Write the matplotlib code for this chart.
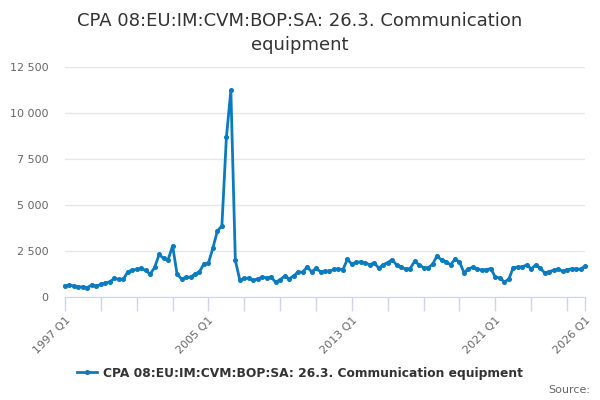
import matplotlib
matplotlib.use("Agg")
import matplotlib.pyplot as plt

# quarterly values, 1997 Q1 .. 2026 Q1
values = [
    614, 650, 596, 560, 542, 506, 668, 578,
    686, 759, 831, 1011, 957, 957, 1373, 1463,
    1499, 1553, 1445, 1246, 1607, 2312, 2095, 2023,
    2781, 1246, 975, 1066, 1084, 1246, 1373, 1806,
    1842, 2673, 3594, 3865, 8669, 11233, 1987, 921,
    1011, 1029, 903, 993, 1066, 1047, 1066, 813,
    939, 1138, 993, 1138, 1373, 1336, 1643, 1373,
    1553, 1373, 1409, 1391, 1509, 1527, 1491, 2054,
    1782, 1891, 1909, 1836, 1763, 1854, 1563, 1763,
    1873, 2036, 1727, 1636, 1509, 1545, 1945, 1745,
    1600, 1582, 1782, 2236, 2000, 1927, 1745, 2054,
    1909, 1327, 1527, 1618, 1527, 1454, 1491, 1545,
    1073, 1036, 818, 964, 1600, 1618, 1636, 1745,
    1527, 1745, 1582, 1309, 1382, 1454, 1527, 1400,
    1491, 1527, 1527, 1509, 1673,
]
quarters = [f"{1997 + i // 4} Q{i % 4 + 1}" for i in range(len(values))]
labelled = ["1997 Q1", "2005 Q1", "2013 Q1", "2021 Q1", "2026 Q1"]
y_ticks = [0, 2500, 5000, 7500, 10000, 12500]
series_name = "CPA 08:EU:IM:CVM:BOP:SA: 26.3. Communication equipment"
title_lines = ["CPA 08:EU:IM:CVM:BOP:SA: 26.3. Communication", "equipment"]

line_color = "#0b7bbf"
text_color = "#333333"
label_color = "#666666"

fig = plt.figure(figsize=(6, 4), dpi=100)
ax = fig.add_axes([65 / 600, 1 - 297 / 400, 520 / 600, 230 / 400])

x = list(range(len(values)))
ax.plot(x, values, color=line_color, lw=2, marker="o", ms=2.6,
        label=series_name, clip_on=False, zorder=3)

ax.set_xlim(0, len(values) - 1)
ax.set_ylim(0, 12500)

tick_pos = list(range(0, len(values), 8))
if tick_pos[-1] != len(values) - 1:
    tick_pos.append(len(values) - 1)
ax.set_xticks(tick_pos)
ax.set_xticklabels([quarters[p] if quarters[p] in labelled else "" for p in tick_pos],
                   rotation=45, ha="right", rotation_mode="anchor",
                   color=label_color, fontsize=8)
ax.tick_params(axis="x", length=10, width=1, color="#ccd6eb", pad=3)

ax.set_yticks(y_ticks)
ax.set_yticklabels([f"{v:,}".replace(",", " ") for v in y_ticks],
                   color=label_color, fontsize=8)
ax.tick_params(axis="y", length=0, pad=12)

ax.grid(axis="y", color="#e6e6e6", lw=1)
ax.set_axisbelow(True)
for side in ["top", "right", "left"]:
    ax.spines[side].set_visible(False)
ax.spines["bottom"].set_color("#ccd6eb")

for k, line in enumerate(title_lines):
    fig.text(0.5, 1 - (21 + 24 * k) / 400, line, ha="center", va="center",
             fontsize=13, color=text_color)

fig.legend(loc="center", bbox_to_anchor=(0.5, 1 - 373 / 400), frameon=False,
           prop={"size": 8.8, "weight": "bold"}, labelcolor=text_color,
           handlelength=1.6, handletextpad=0.5)

fig.text(590 / 600, 1 - 390 / 400, "Source:", ha="right", va="center",
         fontsize=8, color=label_color)

fig.savefig("out.png", dpi=100)
